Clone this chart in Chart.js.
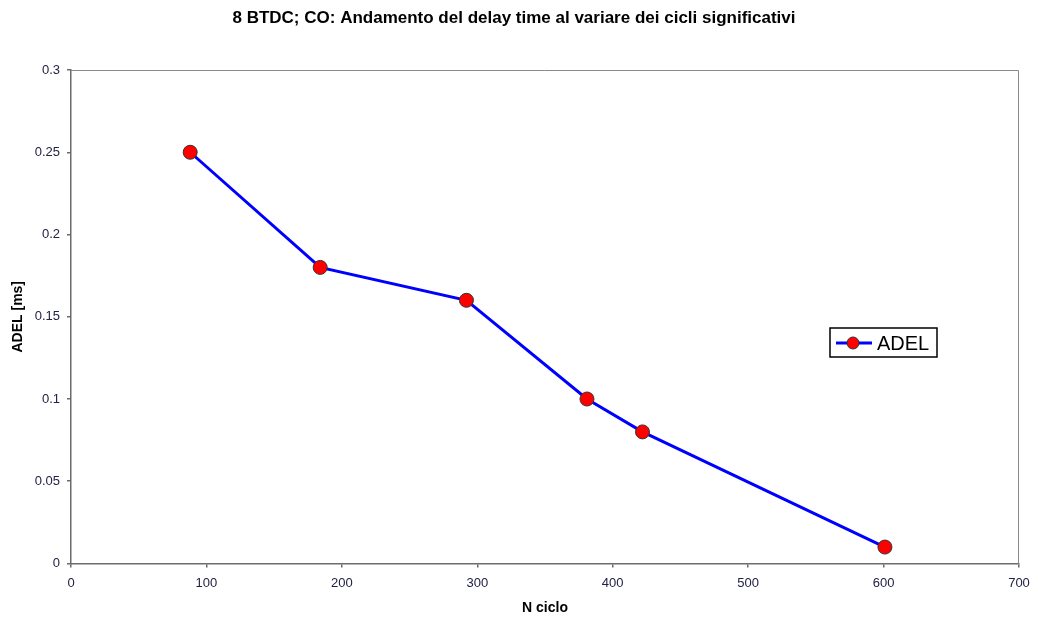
<!DOCTYPE html>
<html>
<head>
<meta charset="utf-8">
<script src="https://cdn.jsdelivr.net/npm/chart.js@4.4.1/dist/chart.umd.min.js"></script>
<style>
  html, body { margin: 0; padding: 0; background: #ffffff; }
  #wrap { width: 1038px; height: 619px; position: relative; }
</style>
</head>
<body>
<div id="wrap"><canvas id="c" width="1038" height="619"></canvas></div>
<script>
// Cycle number and measured ignition delay
const nCiclo = [88, 184, 292, 381, 422, 601];
const adel = [0.25, 0.18, 0.16, 0.10, 0.08, 0.01];
const seriesName = 'ADEL';
const chartTitle = '8 BTDC; CO: Andamento del delay time al variare dei cicli significativi';
const xTitle = 'N ciclo';
const yTitle = 'ADEL [ms]';
const xTicks = [0, 100, 200, 300, 400, 500, 600, 700];
const yTicks = [0, 0.05, 0.1, 0.15, 0.2, 0.25, 0.3];

const points = nCiclo.map((x, i) => ({ x: x, y: adel[i] }));

// Frame on the top and right edges of the plot area
const plotFrame = {
  id: 'plotFrame',
  beforeDatasetsDraw(chart) {
    const { ctx, chartArea: a } = chart;
    ctx.save();
    ctx.strokeStyle = '#8a8a8a';
    ctx.lineWidth = 1;
    ctx.beginPath();
    ctx.moveTo(a.left, a.top + 0.5);
    ctx.lineTo(a.right - 0.5, a.top + 0.5);
    ctx.lineTo(a.right - 0.5, a.bottom);
    ctx.stroke();
    ctx.restore();
  }
};

// Boxed legend inside the plot area
const boxedLegend = {
  id: 'boxedLegend',
  afterDraw(chart) {
    const { ctx } = chart;
    const ds = chart.data.datasets[0];
    const x = 830, y = 328, w = 107, h = 29;
    ctx.save();
    ctx.fillStyle = '#ffffff';
    ctx.fillRect(x, y, w, h);
    ctx.strokeStyle = '#000000';
    ctx.lineWidth = 1.5;
    ctx.strokeRect(x, y, w, h);
    const cy = y + h / 2 + 0.5;
    ctx.strokeStyle = ds.borderColor;
    ctx.lineWidth = ds.borderWidth;
    ctx.beginPath();
    ctx.moveTo(x + 6, cy);
    ctx.lineTo(x + 42, cy);
    ctx.stroke();
    ctx.beginPath();
    ctx.arc(x + 23, cy, 6, 0, Math.PI * 2);
    ctx.fillStyle = ds.pointBackgroundColor;
    ctx.fill();
    ctx.strokeStyle = ds.pointBorderColor;
    ctx.lineWidth = 1;
    ctx.stroke();
    ctx.fillStyle = '#000000';
    ctx.font = '20px "Liberation Sans", Arial, sans-serif';
    ctx.textBaseline = 'middle';
    ctx.fillText(ds.label, x + 47, cy + 1);
    ctx.restore();
  }
};

const tickFont = { family: '"Liberation Sans", Arial, sans-serif', size: 13 };
const titleFont = { family: '"Liberation Sans", Arial, sans-serif', size: 14, weight: 'bold' };

new Chart(document.getElementById('c'), {
  type: 'scatter',
  data: {
    datasets: [{
      label: seriesName,
      data: points,
      showLine: true,
      borderColor: '#0000ff',
      borderWidth: 3,
      pointBackgroundColor: '#ff0000',
      pointBorderColor: '#333333',
      pointBorderWidth: 1,
      pointRadius: 7,
      pointHoverRadius: 7,
      tension: 0
    }]
  },
  options: {
    responsive: false,
    animation: false,
    layout: { padding: { top: 0, left: 9, right: 19, bottom: 0 } },
    plugins: {
      legend: { display: false },
      tooltip: { enabled: false },
      title: {
        display: true,
        text: chartTitle,
        color: '#000000',
        font: { family: '"Liberation Sans", Arial, sans-serif', size: 17, weight: 'bold' },
        padding: { top: 8, bottom: 41.6 }
      }
    },
    scales: {
      x: {
        type: 'linear',
        min: 0,
        max: 700,
        afterBuildTicks(scale) { scale.ticks = xTicks.map(v => ({ value: v })); },
        afterFit(scale) { scale.height = 55.5; },
        ticks: { color: '#222244', font: tickFont, padding: 8, maxRotation: 0 },
        grid: { display: true, drawOnChartArea: false, drawTicks: true, tickLength: 4, color: '#6b6b6b', lineWidth: 1.5 },
        border: { display: true, color: '#6b6b6b', width: 1.5 },
        title: { display: true, text: xTitle, color: '#000000', font: titleFont, padding: { top: 0, bottom: 2.6 } }
      },
      y: {
        type: 'linear',
        min: 0,
        max: 0.3,
        afterBuildTicks(scale) { scale.ticks = yTicks.map(v => ({ value: v })); },
        afterFit(scale) { scale.width = 62; },
        ticks: { color: '#222244', font: tickFont, padding: 7, callback: v => String(Math.round(v * 100) / 100) },
        grid: { display: true, drawOnChartArea: false, drawTicks: true, tickLength: 4, color: '#6b6b6b', lineWidth: 1.5 },
        border: { display: true, color: '#6b6b6b', width: 1.5 },
        title: { display: true, text: yTitle, color: '#000000', font: titleFont, padding: { top: 1, bottom: 0 } }
      }
    }
  },
  plugins: [plotFrame, boxedLegend]
});
</script>
</body>
</html>
